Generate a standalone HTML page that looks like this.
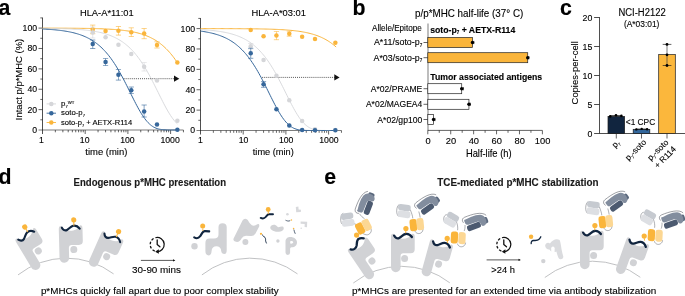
<!DOCTYPE html>
<html><head><meta charset="utf-8"><title>figure</title>
<style>html,body{margin:0;padding:0;background:#fff;overflow:hidden}svg{display:block;will-change:transform}text{font-family:"Liberation Sans",sans-serif;stroke:#000;stroke-width:0.12px;paint-order:stroke}</style>
</head><body>
<svg width="685" height="296" viewBox="0 0 685 296" font-family="Liberation Sans, sans-serif">
<rect width="685" height="296" fill="#fff"/>
<line x1="42.50" y1="17.61" x2="42.50" y2="134.00" stroke="#222" stroke-width="0.8" />
<line x1="38.50" y1="130.00" x2="183.45" y2="130.00" stroke="#111" stroke-width="0.55" />
<line x1="40.30" y1="119.81" x2="42.50" y2="119.81" stroke="#222" stroke-width="0.7" />
<line x1="38.50" y1="109.62" x2="42.50" y2="109.62" stroke="#222" stroke-width="0.7" />
<line x1="40.30" y1="99.43" x2="42.50" y2="99.43" stroke="#222" stroke-width="0.7" />
<line x1="38.50" y1="89.24" x2="42.50" y2="89.24" stroke="#222" stroke-width="0.7" />
<line x1="40.30" y1="79.05" x2="42.50" y2="79.05" stroke="#222" stroke-width="0.7" />
<line x1="38.50" y1="68.86" x2="42.50" y2="68.86" stroke="#222" stroke-width="0.7" />
<line x1="40.30" y1="58.67" x2="42.50" y2="58.67" stroke="#222" stroke-width="0.7" />
<line x1="38.50" y1="48.48" x2="42.50" y2="48.48" stroke="#222" stroke-width="0.7" />
<line x1="40.30" y1="38.29" x2="42.50" y2="38.29" stroke="#222" stroke-width="0.7" />
<line x1="38.50" y1="28.10" x2="42.50" y2="28.10" stroke="#222" stroke-width="0.7" />
<line x1="40.30" y1="17.91" x2="42.50" y2="17.91" stroke="#222" stroke-width="0.7" />
<text x="37.10" y="132.95" font-size="8.7" text-anchor="end" fill="#000" >0</text>
<text x="37.10" y="112.57" font-size="8.7" text-anchor="end" fill="#000" >20</text>
<text x="37.10" y="92.19" font-size="8.7" text-anchor="end" fill="#000" >40</text>
<text x="37.10" y="71.81" font-size="8.7" text-anchor="end" fill="#000" >60</text>
<text x="37.10" y="51.43" font-size="8.7" text-anchor="end" fill="#000" >80</text>
<text x="37.10" y="31.05" font-size="8.7" text-anchor="end" fill="#000" >100</text>
<line x1="55.35" y1="130.00" x2="55.35" y2="132.30" stroke="#222" stroke-width="0.7" />
<line x1="62.87" y1="130.00" x2="62.87" y2="132.30" stroke="#222" stroke-width="0.7" />
<line x1="68.21" y1="130.00" x2="68.21" y2="132.30" stroke="#222" stroke-width="0.7" />
<line x1="72.35" y1="130.00" x2="72.35" y2="132.30" stroke="#222" stroke-width="0.7" />
<line x1="75.73" y1="130.00" x2="75.73" y2="132.30" stroke="#222" stroke-width="0.7" />
<line x1="78.59" y1="130.00" x2="78.59" y2="132.30" stroke="#222" stroke-width="0.7" />
<line x1="81.06" y1="130.00" x2="81.06" y2="132.30" stroke="#222" stroke-width="0.7" />
<line x1="83.25" y1="130.00" x2="83.25" y2="132.30" stroke="#222" stroke-width="0.7" />
<line x1="85.20" y1="130.00" x2="85.20" y2="134.00" stroke="#222" stroke-width="0.7" />
<line x1="98.05" y1="130.00" x2="98.05" y2="132.30" stroke="#222" stroke-width="0.7" />
<line x1="105.57" y1="130.00" x2="105.57" y2="132.30" stroke="#222" stroke-width="0.7" />
<line x1="110.91" y1="130.00" x2="110.91" y2="132.30" stroke="#222" stroke-width="0.7" />
<line x1="115.05" y1="130.00" x2="115.05" y2="132.30" stroke="#222" stroke-width="0.7" />
<line x1="118.43" y1="130.00" x2="118.43" y2="132.30" stroke="#222" stroke-width="0.7" />
<line x1="121.29" y1="130.00" x2="121.29" y2="132.30" stroke="#222" stroke-width="0.7" />
<line x1="123.76" y1="130.00" x2="123.76" y2="132.30" stroke="#222" stroke-width="0.7" />
<line x1="125.95" y1="130.00" x2="125.95" y2="132.30" stroke="#222" stroke-width="0.7" />
<line x1="127.90" y1="130.00" x2="127.90" y2="134.00" stroke="#222" stroke-width="0.7" />
<line x1="140.75" y1="130.00" x2="140.75" y2="132.30" stroke="#222" stroke-width="0.7" />
<line x1="148.27" y1="130.00" x2="148.27" y2="132.30" stroke="#222" stroke-width="0.7" />
<line x1="153.61" y1="130.00" x2="153.61" y2="132.30" stroke="#222" stroke-width="0.7" />
<line x1="157.75" y1="130.00" x2="157.75" y2="132.30" stroke="#222" stroke-width="0.7" />
<line x1="161.13" y1="130.00" x2="161.13" y2="132.30" stroke="#222" stroke-width="0.7" />
<line x1="163.99" y1="130.00" x2="163.99" y2="132.30" stroke="#222" stroke-width="0.7" />
<line x1="166.46" y1="130.00" x2="166.46" y2="132.30" stroke="#222" stroke-width="0.7" />
<line x1="168.65" y1="130.00" x2="168.65" y2="132.30" stroke="#222" stroke-width="0.7" />
<line x1="170.60" y1="130.00" x2="170.60" y2="134.00" stroke="#222" stroke-width="0.7" />
<line x1="183.45" y1="130.00" x2="183.45" y2="132.30" stroke="#222" stroke-width="0.7" />
<text x="41.50" y="143.30" font-size="8.7" text-anchor="middle" fill="#000" >1</text>
<text x="84.70" y="143.30" font-size="8.7" text-anchor="middle" fill="#000" >10</text>
<text x="127.40" y="143.30" font-size="8.7" text-anchor="middle" fill="#000" >100</text>
<text x="170.10" y="143.30" font-size="8.7" text-anchor="middle" fill="#000" >1000</text>
<polyline points="42.50,28.13 43.62,28.13 44.75,28.13 45.87,28.14 47.00,28.14 48.12,28.14 49.24,28.14 50.37,28.14 51.49,28.15 52.61,28.15 53.74,28.15 54.86,28.16 55.99,28.16 57.11,28.16 58.23,28.17 59.36,28.17 60.48,28.18 61.61,28.18 62.73,28.19 63.85,28.19 64.98,28.20 66.10,28.20 67.22,28.21 68.35,28.22 69.47,28.23 70.60,28.23 71.72,28.24 72.84,28.25 73.97,28.26 75.09,28.27 76.22,28.28 77.34,28.29 78.46,28.30 79.59,28.32 80.71,28.33 81.83,28.34 82.96,28.36 84.08,28.38 85.21,28.39 86.33,28.41 87.45,28.43 88.58,28.45 89.70,28.47 90.83,28.50 91.95,28.52 93.07,28.55 94.20,28.57 95.32,28.60 96.44,28.64 97.57,28.67 98.69,28.70 99.82,28.74 100.94,28.78 102.06,28.82 103.19,28.87 104.31,28.92 105.44,28.97 106.56,29.02 107.68,29.08 108.81,29.14 109.93,29.21 111.05,29.27 112.18,29.35 113.30,29.42 114.43,29.51 115.55,29.59 116.67,29.69 117.80,29.79 118.92,29.89 120.05,30.00 121.17,30.12 122.29,30.24 123.42,30.37 124.54,30.52 125.66,30.66 126.79,30.82 127.91,30.99 129.04,31.17 130.16,31.36 131.28,31.56 132.41,31.77 133.53,31.99 134.66,32.23 135.78,32.48 136.90,32.75 138.03,33.03 139.15,33.33 140.28,33.65 141.40,33.99 142.52,34.35 143.65,34.72 144.77,35.12 145.89,35.54 147.02,35.99 148.14,36.46 149.27,36.96 150.39,37.49 151.51,38.05 152.64,38.64 153.76,39.26 154.89,39.91 156.01,40.60 157.13,41.33 158.26,42.10 159.38,42.90 160.50,43.75 161.63,44.65 162.75,45.59 163.88,46.58 165.00,47.61 166.12,48.70 167.25,49.84 168.37,51.03 169.50,52.28 170.62,53.58 171.74,54.94 172.87,56.37 173.99,57.84 175.11,59.38 176.24,60.98 177.36,62.64" fill="none" stroke="#FAB53B" stroke-width="1.0" stroke-linejoin="round"/>
<polyline points="42.50,28.30 43.62,28.31 44.75,28.32 45.87,28.34 47.00,28.35 48.12,28.37 49.24,28.39 50.37,28.40 51.49,28.42 52.61,28.44 53.74,28.46 54.86,28.49 55.99,28.51 57.11,28.54 58.23,28.56 59.36,28.59 60.48,28.62 61.61,28.66 62.73,28.69 63.85,28.73 64.98,28.77 66.10,28.81 67.22,28.85 68.35,28.90 69.47,28.95 70.60,29.00 71.72,29.06 72.84,29.12 73.97,29.18 75.09,29.25 76.22,29.32 77.34,29.39 78.46,29.47 79.59,29.56 80.71,29.65 81.83,29.75 82.96,29.85 84.08,29.96 85.21,30.07 86.33,30.19 87.45,30.32 88.58,30.46 89.70,30.60 90.83,30.76 91.95,30.92 93.07,31.10 94.20,31.28 95.32,31.48 96.44,31.68 97.57,31.90 98.69,32.14 99.82,32.38 100.94,32.64 102.06,32.92 103.19,33.22 104.31,33.53 105.44,33.86 106.56,34.20 107.68,34.57 108.81,34.96 109.93,35.38 111.05,35.81 112.18,36.28 113.30,36.76 114.43,37.28 115.55,37.83 116.67,38.40 117.80,39.01 118.92,39.65 120.05,40.33 121.17,41.04 122.29,41.79 123.42,42.59 124.54,43.42 125.66,44.30 126.79,45.22 127.91,46.19 129.04,47.20 130.16,48.27 131.28,49.39 132.41,50.56 133.53,51.79 134.66,53.07 135.78,54.41 136.90,55.80 138.03,57.26 139.15,58.78 140.28,60.35 141.40,61.99 142.52,63.69 143.65,65.44 144.77,67.26 145.89,69.13 147.02,71.06 148.14,73.04 149.27,75.07 150.39,77.15 151.51,79.28 152.64,81.44 153.76,83.64 154.89,85.86 156.01,88.11 157.13,90.37 158.26,92.64 159.38,94.91 160.50,97.18 161.63,99.42 162.75,101.63 163.88,103.81 165.00,105.94 166.12,108.02 167.25,110.03 168.37,111.96 169.50,113.81 170.62,115.57 171.74,117.23 172.87,118.78 173.99,120.23 175.11,121.56 176.24,122.77 177.36,123.88" fill="none" stroke="#D5D6D9" stroke-width="0.9" stroke-linejoin="round"/>
<polyline points="42.50,29.00 43.62,29.05 44.75,29.11 45.87,29.17 47.00,29.24 48.12,29.31 49.24,29.39 50.37,29.47 51.49,29.55 52.61,29.64 53.74,29.74 54.86,29.84 55.99,29.95 57.11,30.06 58.23,30.18 59.36,30.31 60.48,30.45 61.61,30.59 62.73,30.74 63.85,30.91 64.98,31.08 66.10,31.26 67.22,31.46 68.35,31.66 69.47,31.88 70.60,32.11 71.72,32.36 72.84,32.62 73.97,32.89 75.09,33.19 76.22,33.49 77.34,33.82 78.46,34.17 79.59,34.54 80.71,34.92 81.83,35.33 82.96,35.77 84.08,36.23 85.21,36.71 86.33,37.23 87.45,37.77 88.58,38.34 89.70,38.95 90.83,39.59 91.95,40.26 93.07,40.97 94.20,41.72 95.32,42.50 96.44,43.33 97.57,44.21 98.69,45.12 99.82,46.09 100.94,47.10 102.06,48.16 103.19,49.27 104.31,50.44 105.44,51.66 106.56,52.94 107.68,54.27 108.81,55.66 109.93,57.11 111.05,58.62 112.18,60.19 113.30,61.82 114.43,63.51 115.55,65.26 116.67,67.07 117.80,68.94 118.92,70.86 120.05,72.84 121.17,74.87 122.29,76.94 123.42,79.06 124.54,81.22 125.66,83.42 126.79,85.64 127.91,87.89 129.04,90.15 130.16,92.42 131.28,94.69 132.41,96.95 133.53,99.20 134.66,101.41 135.78,103.60 136.90,105.73 138.03,107.81 139.15,109.83 140.28,111.77 141.40,113.63 142.52,115.40 143.65,117.07 144.77,118.63 145.89,120.09 147.02,121.43 148.14,122.66 149.27,123.77 150.39,124.77 151.51,125.65 152.64,126.43 153.76,127.11 154.89,127.68 156.01,128.17 157.13,128.58 158.26,128.91 159.38,129.18 160.50,129.39 161.63,129.56 162.75,129.69 163.88,129.78 165.00,129.85 166.12,129.90 167.25,129.94 168.37,129.96 169.50,129.98 170.62,129.99 171.74,129.99 172.87,130.00 173.99,130.00 175.11,130.00 176.24,130.00 177.36,130.00" fill="none" stroke="#36679B" stroke-width="1.0" stroke-linejoin="round"/>
<line x1="123.60" y1="78.70" x2="175.30" y2="78.70" stroke="#222" stroke-width="0.8" stroke-dasharray="0.95 1.1"/>
<path d="M174.00,75.60 L179.30,78.70 L174.00,81.80 Z" fill="#111"/>
<line x1="92.72" y1="25.10" x2="92.72" y2="33.70" stroke="#FAB53B" stroke-width="0.8" opacity="0.75"/>
<line x1="90.12" y1="25.10" x2="95.32" y2="25.10" stroke="#FAB53B" stroke-width="0.8" opacity="0.75"/>
<line x1="90.12" y1="33.70" x2="95.32" y2="33.70" stroke="#FAB53B" stroke-width="0.8" opacity="0.75"/>
<line x1="118.43" y1="26.50" x2="118.43" y2="35.10" stroke="#FAB53B" stroke-width="0.8" opacity="0.75"/>
<line x1="115.83" y1="26.50" x2="121.03" y2="26.50" stroke="#FAB53B" stroke-width="0.8" opacity="0.75"/>
<line x1="115.83" y1="35.10" x2="121.03" y2="35.10" stroke="#FAB53B" stroke-width="0.8" opacity="0.75"/>
<line x1="131.28" y1="27.80" x2="131.28" y2="36.50" stroke="#FAB53B" stroke-width="0.8" opacity="0.75"/>
<line x1="128.68" y1="27.80" x2="133.88" y2="27.80" stroke="#FAB53B" stroke-width="0.8" opacity="0.75"/>
<line x1="128.68" y1="36.50" x2="133.88" y2="36.50" stroke="#FAB53B" stroke-width="0.8" opacity="0.75"/>
<line x1="144.14" y1="28.50" x2="144.14" y2="38.70" stroke="#FAB53B" stroke-width="0.8" opacity="0.75"/>
<line x1="141.54" y1="28.50" x2="146.74" y2="28.50" stroke="#FAB53B" stroke-width="0.8" opacity="0.75"/>
<line x1="141.54" y1="38.70" x2="146.74" y2="38.70" stroke="#FAB53B" stroke-width="0.8" opacity="0.75"/>
<line x1="156.99" y1="41.80" x2="156.99" y2="48.00" stroke="#FAB53B" stroke-width="0.8" opacity="0.75"/>
<line x1="154.39" y1="41.80" x2="159.59" y2="41.80" stroke="#FAB53B" stroke-width="0.8" opacity="0.75"/>
<line x1="154.39" y1="48.00" x2="159.59" y2="48.00" stroke="#FAB53B" stroke-width="0.8" opacity="0.75"/>
<circle cx="92.72" cy="29.40" r="2.25" fill="#FAB53B" />
<circle cx="105.57" cy="31.00" r="2.25" fill="#FAB53B" />
<circle cx="118.43" cy="30.80" r="2.25" fill="#FAB53B" />
<circle cx="131.28" cy="32.30" r="2.25" fill="#FAB53B" />
<circle cx="144.14" cy="33.60" r="2.25" fill="#FAB53B" />
<circle cx="156.99" cy="44.90" r="2.25" fill="#FAB53B" />
<circle cx="177.36" cy="62.50" r="2.25" fill="#FAB53B" />
<line x1="92.72" y1="27.00" x2="92.72" y2="38.00" stroke="#D5D6D9" stroke-width="0.8" opacity="0.75"/>
<line x1="90.12" y1="27.00" x2="95.32" y2="27.00" stroke="#D5D6D9" stroke-width="0.8" opacity="0.75"/>
<line x1="90.12" y1="38.00" x2="95.32" y2="38.00" stroke="#D5D6D9" stroke-width="0.8" opacity="0.75"/>
<line x1="144.14" y1="62.60" x2="144.14" y2="71.00" stroke="#D5D6D9" stroke-width="0.8" opacity="0.75"/>
<line x1="141.54" y1="62.60" x2="146.74" y2="62.60" stroke="#D5D6D9" stroke-width="0.8" opacity="0.75"/>
<line x1="141.54" y1="71.00" x2="146.74" y2="71.00" stroke="#D5D6D9" stroke-width="0.8" opacity="0.75"/>
<circle cx="92.72" cy="32.40" r="2.25" fill="#D5D6D9" />
<circle cx="105.57" cy="37.20" r="2.25" fill="#D5D6D9" />
<circle cx="118.43" cy="44.70" r="2.25" fill="#D5D6D9" />
<circle cx="131.28" cy="54.10" r="2.25" fill="#D5D6D9" />
<circle cx="144.14" cy="66.70" r="2.25" fill="#D5D6D9" />
<circle cx="156.99" cy="80.60" r="2.25" fill="#D5D6D9" />
<circle cx="177.36" cy="120.80" r="2.25" fill="#D5D6D9" />
<line x1="92.72" y1="40.00" x2="92.72" y2="48.50" stroke="#36679B" stroke-width="0.8" opacity="0.75"/>
<line x1="90.12" y1="40.00" x2="95.32" y2="40.00" stroke="#36679B" stroke-width="0.8" opacity="0.75"/>
<line x1="90.12" y1="48.50" x2="95.32" y2="48.50" stroke="#36679B" stroke-width="0.8" opacity="0.75"/>
<line x1="105.57" y1="58.40" x2="105.57" y2="65.60" stroke="#36679B" stroke-width="0.8" opacity="0.75"/>
<line x1="102.97" y1="58.40" x2="108.17" y2="58.40" stroke="#36679B" stroke-width="0.8" opacity="0.75"/>
<line x1="102.97" y1="65.60" x2="108.17" y2="65.60" stroke="#36679B" stroke-width="0.8" opacity="0.75"/>
<line x1="118.43" y1="69.60" x2="118.43" y2="80.10" stroke="#36679B" stroke-width="0.8" opacity="0.75"/>
<line x1="115.83" y1="69.60" x2="121.03" y2="69.60" stroke="#36679B" stroke-width="0.8" opacity="0.75"/>
<line x1="115.83" y1="80.10" x2="121.03" y2="80.10" stroke="#36679B" stroke-width="0.8" opacity="0.75"/>
<line x1="131.28" y1="87.00" x2="131.28" y2="93.40" stroke="#36679B" stroke-width="0.8" opacity="0.75"/>
<line x1="128.68" y1="87.00" x2="133.88" y2="87.00" stroke="#36679B" stroke-width="0.8" opacity="0.75"/>
<line x1="128.68" y1="93.40" x2="133.88" y2="93.40" stroke="#36679B" stroke-width="0.8" opacity="0.75"/>
<line x1="144.14" y1="105.00" x2="144.14" y2="117.00" stroke="#36679B" stroke-width="0.8" opacity="0.75"/>
<line x1="141.54" y1="105.00" x2="146.74" y2="105.00" stroke="#36679B" stroke-width="0.8" opacity="0.75"/>
<line x1="141.54" y1="117.00" x2="146.74" y2="117.00" stroke="#36679B" stroke-width="0.8" opacity="0.75"/>
<circle cx="92.72" cy="44.00" r="2.25" fill="#36679B" />
<circle cx="105.57" cy="61.90" r="2.25" fill="#36679B" />
<circle cx="118.43" cy="74.70" r="2.25" fill="#36679B" />
<circle cx="131.28" cy="90.20" r="2.25" fill="#36679B" />
<circle cx="144.14" cy="111.50" r="2.25" fill="#36679B" />
<circle cx="156.99" cy="124.50" r="2.25" fill="#36679B" />
<circle cx="177.36" cy="129.80" r="2.25" fill="#36679B" />
<text x="79.90" y="16.40" font-size="9.5" text-anchor="start" fill="#000" textLength="53.8" lengthAdjust="spacingAndGlyphs" >HLA-A*11:01</text>
<text x="85.30" y="154.50" font-size="9.8" text-anchor="start" fill="#000" textLength="42.0" lengthAdjust="spacingAndGlyphs" >time (min)</text>
<text x="21.60" y="120.20" font-size="9.8" text-anchor="start" fill="#000" textLength="81.4" lengthAdjust="spacingAndGlyphs" transform="rotate(-90 21.60 120.20)" >Intact p/p*MHC (%)</text>
<line x1="46.60" y1="103.90" x2="56.00" y2="103.90" stroke="#D5D6D9" stroke-width="0.9" />
<circle cx="51.30" cy="103.90" r="2.25" fill="#D5D6D9" />
<text x="61.00" y="106.10" font-size="7.9" text-anchor="start" fill="#000" textLength="13.3" lengthAdjust="spacingAndGlyphs" >p<tspan font-size="52%" dy="1.9">7</tspan><tspan dy="-1.9">&#8203;</tspan><tspan font-size="54%" dy="-2.0">WT</tspan></text>
<line x1="46.60" y1="113.20" x2="56.00" y2="113.20" stroke="#36679B" stroke-width="0.9" />
<circle cx="51.30" cy="113.20" r="2.25" fill="#36679B" />
<text x="61.00" y="115.40" font-size="7.9" text-anchor="start" fill="#000" textLength="23.9" lengthAdjust="spacingAndGlyphs" >soto-p<tspan font-size="52%" dy="1.9">7</tspan><tspan dy="-1.9">&#8203;</tspan></text>
<line x1="46.60" y1="122.50" x2="56.00" y2="122.50" stroke="#FAB53B" stroke-width="0.9" />
<circle cx="51.30" cy="122.50" r="2.25" fill="#FAB53B" />
<text x="61.00" y="124.70" font-size="7.9" text-anchor="start" fill="#000" textLength="71.2" lengthAdjust="spacingAndGlyphs" >soto-p<tspan font-size="52%" dy="1.9">7</tspan><tspan dy="-1.9">&#8203;</tspan> + AETX-R114</text>
<line x1="200.50" y1="18.11" x2="200.50" y2="134.50" stroke="#222" stroke-width="0.8" />
<line x1="196.50" y1="130.50" x2="341.45" y2="130.50" stroke="#111" stroke-width="0.55" />
<line x1="198.30" y1="120.31" x2="200.50" y2="120.31" stroke="#222" stroke-width="0.7" />
<line x1="196.50" y1="110.12" x2="200.50" y2="110.12" stroke="#222" stroke-width="0.7" />
<line x1="198.30" y1="99.93" x2="200.50" y2="99.93" stroke="#222" stroke-width="0.7" />
<line x1="196.50" y1="89.74" x2="200.50" y2="89.74" stroke="#222" stroke-width="0.7" />
<line x1="198.30" y1="79.55" x2="200.50" y2="79.55" stroke="#222" stroke-width="0.7" />
<line x1="196.50" y1="69.36" x2="200.50" y2="69.36" stroke="#222" stroke-width="0.7" />
<line x1="198.30" y1="59.17" x2="200.50" y2="59.17" stroke="#222" stroke-width="0.7" />
<line x1="196.50" y1="48.98" x2="200.50" y2="48.98" stroke="#222" stroke-width="0.7" />
<line x1="198.30" y1="38.79" x2="200.50" y2="38.79" stroke="#222" stroke-width="0.7" />
<line x1="196.50" y1="28.60" x2="200.50" y2="28.60" stroke="#222" stroke-width="0.7" />
<line x1="198.30" y1="18.41" x2="200.50" y2="18.41" stroke="#222" stroke-width="0.7" />
<text x="195.10" y="133.45" font-size="8.7" text-anchor="end" fill="#000" >0</text>
<text x="195.10" y="113.07" font-size="8.7" text-anchor="end" fill="#000" >20</text>
<text x="195.10" y="92.69" font-size="8.7" text-anchor="end" fill="#000" >40</text>
<text x="195.10" y="72.31" font-size="8.7" text-anchor="end" fill="#000" >60</text>
<text x="195.10" y="51.93" font-size="8.7" text-anchor="end" fill="#000" >80</text>
<text x="195.10" y="31.55" font-size="8.7" text-anchor="end" fill="#000" >100</text>
<line x1="213.35" y1="130.50" x2="213.35" y2="132.80" stroke="#222" stroke-width="0.7" />
<line x1="220.87" y1="130.50" x2="220.87" y2="132.80" stroke="#222" stroke-width="0.7" />
<line x1="226.21" y1="130.50" x2="226.21" y2="132.80" stroke="#222" stroke-width="0.7" />
<line x1="230.35" y1="130.50" x2="230.35" y2="132.80" stroke="#222" stroke-width="0.7" />
<line x1="233.73" y1="130.50" x2="233.73" y2="132.80" stroke="#222" stroke-width="0.7" />
<line x1="236.59" y1="130.50" x2="236.59" y2="132.80" stroke="#222" stroke-width="0.7" />
<line x1="239.06" y1="130.50" x2="239.06" y2="132.80" stroke="#222" stroke-width="0.7" />
<line x1="241.25" y1="130.50" x2="241.25" y2="132.80" stroke="#222" stroke-width="0.7" />
<line x1="243.20" y1="130.50" x2="243.20" y2="134.50" stroke="#222" stroke-width="0.7" />
<line x1="256.05" y1="130.50" x2="256.05" y2="132.80" stroke="#222" stroke-width="0.7" />
<line x1="263.57" y1="130.50" x2="263.57" y2="132.80" stroke="#222" stroke-width="0.7" />
<line x1="268.91" y1="130.50" x2="268.91" y2="132.80" stroke="#222" stroke-width="0.7" />
<line x1="273.05" y1="130.50" x2="273.05" y2="132.80" stroke="#222" stroke-width="0.7" />
<line x1="276.43" y1="130.50" x2="276.43" y2="132.80" stroke="#222" stroke-width="0.7" />
<line x1="279.29" y1="130.50" x2="279.29" y2="132.80" stroke="#222" stroke-width="0.7" />
<line x1="281.76" y1="130.50" x2="281.76" y2="132.80" stroke="#222" stroke-width="0.7" />
<line x1="283.95" y1="130.50" x2="283.95" y2="132.80" stroke="#222" stroke-width="0.7" />
<line x1="285.90" y1="130.50" x2="285.90" y2="134.50" stroke="#222" stroke-width="0.7" />
<line x1="298.75" y1="130.50" x2="298.75" y2="132.80" stroke="#222" stroke-width="0.7" />
<line x1="306.27" y1="130.50" x2="306.27" y2="132.80" stroke="#222" stroke-width="0.7" />
<line x1="311.61" y1="130.50" x2="311.61" y2="132.80" stroke="#222" stroke-width="0.7" />
<line x1="315.75" y1="130.50" x2="315.75" y2="132.80" stroke="#222" stroke-width="0.7" />
<line x1="319.13" y1="130.50" x2="319.13" y2="132.80" stroke="#222" stroke-width="0.7" />
<line x1="321.99" y1="130.50" x2="321.99" y2="132.80" stroke="#222" stroke-width="0.7" />
<line x1="324.46" y1="130.50" x2="324.46" y2="132.80" stroke="#222" stroke-width="0.7" />
<line x1="326.65" y1="130.50" x2="326.65" y2="132.80" stroke="#222" stroke-width="0.7" />
<line x1="328.60" y1="130.50" x2="328.60" y2="134.50" stroke="#222" stroke-width="0.7" />
<line x1="341.45" y1="130.50" x2="341.45" y2="132.80" stroke="#222" stroke-width="0.7" />
<text x="200.30" y="143.30" font-size="8.7" text-anchor="middle" fill="#000" >1</text>
<text x="243.50" y="143.30" font-size="8.7" text-anchor="middle" fill="#000" >10</text>
<text x="286.20" y="143.30" font-size="8.7" text-anchor="middle" fill="#000" >100</text>
<text x="328.90" y="143.30" font-size="8.7" text-anchor="middle" fill="#000" >1000</text>
<polyline points="200.50,28.61 201.63,28.61 202.76,28.62 203.89,28.62 205.02,28.62 206.15,28.62 207.28,28.62 208.41,28.62 209.54,28.62 210.67,28.62 211.80,28.62 212.93,28.63 214.06,28.63 215.19,28.63 216.32,28.63 217.45,28.63 218.58,28.64 219.71,28.64 220.84,28.64 221.97,28.64 223.10,28.65 224.23,28.65 225.36,28.65 226.49,28.65 227.62,28.66 228.75,28.66 229.88,28.67 231.01,28.67 232.14,28.67 233.27,28.68 234.40,28.68 235.53,28.69 236.67,28.70 237.80,28.70 238.93,28.71 240.06,28.71 241.19,28.72 242.32,28.73 243.45,28.74 244.58,28.75 245.71,28.75 246.84,28.76 247.97,28.77 249.10,28.79 250.23,28.80 251.36,28.81 252.49,28.82 253.62,28.84 254.75,28.85 255.88,28.87 257.01,28.88 258.14,28.90 259.27,28.92 260.40,28.94 261.53,28.96 262.66,28.99 263.79,29.01 264.92,29.04 266.05,29.06 267.18,29.09 268.31,29.12 269.44,29.16 270.57,29.19 271.70,29.23 272.83,29.27 273.96,29.31 275.09,29.35 276.22,29.40 277.35,29.45 278.48,29.50 279.61,29.56 280.74,29.62 281.87,29.68 283.00,29.75 284.13,29.82 285.26,29.90 286.39,29.98 287.52,30.07 288.65,30.16 289.78,30.25 290.91,30.36 292.04,30.47 293.17,30.58 294.30,30.71 295.43,30.84 296.56,30.98 297.69,31.12 298.82,31.28 299.95,31.45 301.08,31.62 302.21,31.81 303.34,32.01 304.47,32.22 305.60,32.44 306.73,32.68 307.87,32.93 309.00,33.19 310.13,33.48 311.26,33.77 312.39,34.09 313.52,34.43 314.65,34.78 315.78,35.16 316.91,35.55 318.04,35.97 319.17,36.42 320.30,36.89 321.43,37.39 322.56,37.91 323.69,38.47 324.82,39.06 325.95,39.68 327.08,40.33 328.21,41.02 329.34,41.75 330.47,42.52 331.60,43.33 332.73,44.18 333.86,45.07 334.99,46.01 336.12,47.00" fill="none" stroke="#FAB53B" stroke-width="1.0" stroke-linejoin="round"/>
<polyline points="200.50,29.62 201.62,29.68 202.75,29.75 203.87,29.82 205.00,29.90 206.12,29.98 207.24,30.06 208.37,30.15 209.49,30.25 210.61,30.35 211.74,30.46 212.86,30.57 213.99,30.70 215.11,30.83 216.23,30.96 217.36,31.11 218.48,31.26 219.61,31.43 220.73,31.60 221.85,31.79 222.98,31.98 224.10,32.19 225.22,32.41 226.35,32.64 227.47,32.89 228.60,33.15 229.72,33.43 230.84,33.72 231.97,34.04 233.09,34.37 234.22,34.71 235.34,35.08 236.46,35.48 237.59,35.89 238.71,36.33 239.83,36.79 240.96,37.28 242.08,37.80 243.21,38.34 244.33,38.92 245.45,39.53 246.58,40.17 247.70,40.85 248.83,41.56 249.95,42.32 251.07,43.11 252.20,43.94 253.32,44.82 254.44,45.74 255.57,46.71 256.69,47.73 257.82,48.80 258.94,49.92 260.06,51.09 261.19,52.32 262.31,53.61 263.44,54.95 264.56,56.34 265.68,57.80 266.81,59.32 267.93,60.90 269.05,62.54 270.18,64.23 271.30,65.99 272.43,67.81 273.55,69.68 274.67,71.61 275.80,73.60 276.92,75.63 278.05,77.71 279.17,79.84 280.29,82.00 281.42,84.20 282.54,86.43 283.66,88.68 284.79,90.94 285.91,93.21 287.04,95.48 288.16,97.74 289.28,99.98 290.41,102.20 291.53,104.37 292.66,106.50 293.78,108.58 294.90,110.58 296.03,112.51 297.15,114.36 298.28,116.12 299.40,117.77 300.52,119.32 301.65,120.77 302.77,122.09 303.89,123.31 305.02,124.40 306.14,125.39 307.27,126.26 308.39,127.02 309.51,127.69 310.64,128.25 311.76,128.73 312.89,129.12 314.01,129.45 315.13,129.71 316.26,129.92 317.38,130.08 318.50,130.20 319.63,130.29 320.75,130.36 321.88,130.41 323.00,130.44 324.12,130.46 325.25,130.48 326.37,130.49 327.50,130.49 328.62,130.50 329.74,130.50 330.87,130.50 331.99,130.50 333.11,130.50 334.24,130.50 335.36,130.50" fill="none" stroke="#D5D6D9" stroke-width="0.9" stroke-linejoin="round"/>
<polyline points="200.50,31.10 201.62,31.25 202.75,31.42 203.87,31.59 205.00,31.78 206.12,31.97 207.24,32.18 208.37,32.40 209.49,32.63 210.61,32.88 211.74,33.14 212.86,33.41 213.99,33.71 215.11,34.02 216.23,34.35 217.36,34.69 218.48,35.06 219.61,35.45 220.73,35.86 221.85,36.30 222.98,36.76 224.10,37.25 225.22,37.76 226.35,38.31 227.47,38.88 228.60,39.49 229.72,40.13 230.84,40.81 231.97,41.52 233.09,42.27 234.22,43.06 235.34,43.89 236.46,44.77 237.59,45.69 238.71,46.66 239.83,47.67 240.96,48.74 242.08,49.85 243.21,51.02 244.33,52.25 245.45,53.53 246.58,54.87 247.70,56.26 248.83,57.72 249.95,59.23 251.07,60.80 252.20,62.44 253.32,64.13 254.44,65.89 255.57,67.70 256.69,69.57 257.82,71.50 258.94,73.48 260.06,75.51 261.19,77.59 262.31,79.71 263.44,81.87 264.56,84.07 265.68,86.29 266.81,88.54 267.93,90.80 269.05,93.08 270.18,95.35 271.30,97.61 272.43,99.85 273.55,102.07 274.67,104.25 275.80,106.38 276.92,108.46 278.05,110.47 279.17,112.40 280.29,114.25 281.42,116.02 282.54,117.68 283.66,119.24 284.79,120.68 285.91,122.02 287.04,123.24 288.16,124.34 289.28,125.33 290.41,126.21 291.53,126.98 292.66,127.65 293.78,128.22 294.90,128.70 296.03,129.10 297.15,129.43 298.28,129.70 299.40,129.91 300.52,130.07 301.65,130.19 302.77,130.29 303.89,130.36 305.02,130.40 306.14,130.44 307.27,130.46 308.39,130.48 309.51,130.49 310.64,130.49 311.76,130.50 312.89,130.50 314.01,130.50 315.13,130.50 316.26,130.50 317.38,130.50 318.50,130.50 319.63,130.50 320.75,130.50 321.88,130.50 323.00,130.50 324.12,130.50 325.25,130.50 326.37,130.50 327.50,130.50 328.62,130.50 329.74,130.50 330.87,130.50 331.99,130.50 333.11,130.50 334.24,130.50 335.36,130.50" fill="none" stroke="#36679B" stroke-width="1.0" stroke-linejoin="round"/>
<line x1="262.20" y1="77.40" x2="335.60" y2="77.40" stroke="#222" stroke-width="0.8" stroke-dasharray="0.95 1.1"/>
<path d="M334.30,74.30 L339.60,77.40 L334.30,80.50 Z" fill="#111"/>
<line x1="276.43" y1="31.60" x2="276.43" y2="39.70" stroke="#FAB53B" stroke-width="0.8" opacity="0.75"/>
<line x1="273.83" y1="31.60" x2="279.03" y2="31.60" stroke="#FAB53B" stroke-width="0.8" opacity="0.75"/>
<line x1="273.83" y1="39.70" x2="279.03" y2="39.70" stroke="#FAB53B" stroke-width="0.8" opacity="0.75"/>
<line x1="289.28" y1="31.20" x2="289.28" y2="36.20" stroke="#FAB53B" stroke-width="0.8" opacity="0.75"/>
<line x1="286.68" y1="31.20" x2="291.88" y2="31.20" stroke="#FAB53B" stroke-width="0.8" opacity="0.75"/>
<line x1="286.68" y1="36.20" x2="291.88" y2="36.20" stroke="#FAB53B" stroke-width="0.8" opacity="0.75"/>
<circle cx="250.72" cy="29.90" r="2.25" fill="#FAB53B" />
<circle cx="263.57" cy="36.30" r="2.25" fill="#FAB53B" />
<circle cx="276.43" cy="35.50" r="2.25" fill="#FAB53B" />
<circle cx="289.28" cy="33.70" r="2.25" fill="#FAB53B" />
<circle cx="302.14" cy="36.70" r="2.25" fill="#FAB53B" />
<circle cx="314.99" cy="38.90" r="2.25" fill="#FAB53B" />
<circle cx="335.36" cy="42.70" r="2.25" fill="#FAB53B" />
<line x1="250.72" y1="43.50" x2="250.72" y2="49.00" stroke="#D5D6D9" stroke-width="0.8" opacity="0.75"/>
<line x1="248.12" y1="43.50" x2="253.32" y2="43.50" stroke="#D5D6D9" stroke-width="0.8" opacity="0.75"/>
<line x1="248.12" y1="49.00" x2="253.32" y2="49.00" stroke="#D5D6D9" stroke-width="0.8" opacity="0.75"/>
<circle cx="250.72" cy="46.20" r="2.25" fill="#D5D6D9" />
<circle cx="263.57" cy="60.10" r="2.25" fill="#D5D6D9" />
<circle cx="276.43" cy="75.80" r="2.25" fill="#D5D6D9" />
<circle cx="289.28" cy="100.20" r="2.25" fill="#D5D6D9" />
<circle cx="302.14" cy="120.90" r="2.25" fill="#D5D6D9" />
<circle cx="314.99" cy="129.30" r="2.25" fill="#D5D6D9" />
<circle cx="335.36" cy="130.10" r="2.25" fill="#D5D6D9" />
<line x1="250.72" y1="48.30" x2="250.72" y2="58.30" stroke="#36679B" stroke-width="0.8" opacity="0.75"/>
<line x1="248.12" y1="48.30" x2="253.32" y2="48.30" stroke="#36679B" stroke-width="0.8" opacity="0.75"/>
<line x1="248.12" y1="58.30" x2="253.32" y2="58.30" stroke="#36679B" stroke-width="0.8" opacity="0.75"/>
<line x1="263.57" y1="81.40" x2="263.57" y2="87.30" stroke="#36679B" stroke-width="0.8" opacity="0.75"/>
<line x1="260.97" y1="81.40" x2="266.17" y2="81.40" stroke="#36679B" stroke-width="0.8" opacity="0.75"/>
<line x1="260.97" y1="87.30" x2="266.17" y2="87.30" stroke="#36679B" stroke-width="0.8" opacity="0.75"/>
<circle cx="250.72" cy="53.30" r="2.25" fill="#36679B" />
<circle cx="263.57" cy="84.30" r="2.25" fill="#36679B" />
<circle cx="276.43" cy="109.30" r="2.25" fill="#36679B" />
<circle cx="289.28" cy="125.50" r="2.25" fill="#36679B" />
<circle cx="302.14" cy="130.00" r="2.25" fill="#36679B" />
<circle cx="314.99" cy="130.20" r="2.25" fill="#36679B" />
<circle cx="335.36" cy="130.20" r="2.25" fill="#36679B" />
<text x="251.40" y="16.40" font-size="9.5" text-anchor="start" fill="#000" textLength="54.5" lengthAdjust="spacingAndGlyphs" >HLA-A*03:01</text>
<text x="252.80" y="154.50" font-size="9.8" text-anchor="start" fill="#000" textLength="41.0" lengthAdjust="spacingAndGlyphs" >time (min)</text>
<text x="-1.50" y="14.50" font-size="21.3" text-anchor="start" fill="#000" font-weight="bold" >a</text>
<text x="352.50" y="14.50" font-size="21.3" text-anchor="start" fill="#000" font-weight="bold" >b</text>
<text x="560.10" y="14.50" font-size="21.3" text-anchor="start" fill="#000" font-weight="bold" >c</text>
<text x="-1.50" y="183.70" font-size="21.3" text-anchor="start" fill="#000" font-weight="bold" >d</text>
<text x="324.20" y="183.60" font-size="21.3" text-anchor="start" fill="#000" font-weight="bold" >e</text>
<text x="415.00" y="16.70" font-size="10.2" text-anchor="start" fill="#000" textLength="108.3" lengthAdjust="spacingAndGlyphs" >p/p*MHC half-life (37° C)</text>
<text x="372.10" y="31.30" font-size="8.7" text-anchor="start" fill="#000" textLength="49.6" lengthAdjust="spacingAndGlyphs" >Allele/Epitope</text>
<text x="430.20" y="32.50" font-size="8.5" text-anchor="start" fill="#000" font-weight="bold" textLength="85.1" lengthAdjust="spacingAndGlyphs" >soto-p<tspan font-size="52%" dy="1.9">7</tspan><tspan dy="-1.9">&#8203;</tspan> + AETX-R114</text>
<text x="430.30" y="79.50" font-size="8.5" text-anchor="start" fill="#000" font-weight="bold" textLength="111.9" lengthAdjust="spacingAndGlyphs" >Tumor associated antigens</text>
<line x1="428.00" y1="23.40" x2="428.00" y2="130.40" stroke="#888" stroke-width="1.1" />
<line x1="427.80" y1="130.40" x2="542.40" y2="130.40" stroke="#222" stroke-width="0.7" />
<line x1="427.80" y1="130.40" x2="427.80" y2="134.30" stroke="#222" stroke-width="0.7" />
<text x="428.00" y="143.80" font-size="9.3" text-anchor="middle" fill="#000" >0</text>
<line x1="439.26" y1="130.40" x2="439.26" y2="132.80" stroke="#222" stroke-width="0.7" />
<line x1="450.72" y1="130.40" x2="450.72" y2="134.30" stroke="#222" stroke-width="0.7" />
<text x="450.92" y="143.80" font-size="9.3" text-anchor="middle" fill="#000" >20</text>
<line x1="462.18" y1="130.40" x2="462.18" y2="132.80" stroke="#222" stroke-width="0.7" />
<line x1="473.64" y1="130.40" x2="473.64" y2="134.30" stroke="#222" stroke-width="0.7" />
<text x="473.84" y="143.80" font-size="9.3" text-anchor="middle" fill="#000" >40</text>
<line x1="485.10" y1="130.40" x2="485.10" y2="132.80" stroke="#222" stroke-width="0.7" />
<line x1="496.56" y1="130.40" x2="496.56" y2="134.30" stroke="#222" stroke-width="0.7" />
<text x="496.76" y="143.80" font-size="9.3" text-anchor="middle" fill="#000" >60</text>
<line x1="508.02" y1="130.40" x2="508.02" y2="132.80" stroke="#222" stroke-width="0.7" />
<line x1="519.48" y1="130.40" x2="519.48" y2="134.30" stroke="#222" stroke-width="0.7" />
<text x="519.68" y="143.80" font-size="9.3" text-anchor="middle" fill="#000" >80</text>
<line x1="530.94" y1="130.40" x2="530.94" y2="132.80" stroke="#222" stroke-width="0.7" />
<line x1="542.40" y1="130.40" x2="542.40" y2="134.30" stroke="#222" stroke-width="0.7" />
<text x="542.60" y="143.80" font-size="9.3" text-anchor="middle" fill="#000" >100</text>
<text x="465.90" y="156.90" font-size="10.2" text-anchor="start" fill="#000" textLength="45.7" lengthAdjust="spacingAndGlyphs" >Half-life (h)</text>
<rect x="427.80" y="37.50" width="44.69" height="10" fill="#FAB53B" stroke="#222" stroke-width="0.7"/>
<line x1="423.50" y1="42.50" x2="427.80" y2="42.50" stroke="#222" stroke-width="0.7" />
<line x1="471.12" y1="42.50" x2="473.87" y2="42.50" stroke="#111" stroke-width="0.7" />
<line x1="473.87" y1="40.90" x2="473.87" y2="44.10" stroke="#111" stroke-width="0.7" />
<circle cx="472.49" cy="42.50" r="1.7" fill="#000" />
<text x="422.30" y="45.30" font-size="9.0" text-anchor="end" fill="#000" textLength="48.4" lengthAdjust="spacingAndGlyphs" >A*11/soto-p<tspan font-size="52%" dy="1.9">7</tspan><tspan dy="-1.9">&#8203;</tspan></text>
<rect x="427.80" y="52.70" width="99.93" height="10" fill="#FAB53B" stroke="#222" stroke-width="0.7"/>
<line x1="423.50" y1="57.70" x2="427.80" y2="57.70" stroke="#222" stroke-width="0.7" />
<line x1="526.59" y1="57.70" x2="528.88" y2="57.70" stroke="#111" stroke-width="0.7" />
<line x1="528.88" y1="56.10" x2="528.88" y2="59.30" stroke="#111" stroke-width="0.7" />
<circle cx="527.73" cy="57.70" r="1.7" fill="#000" />
<text x="422.30" y="60.50" font-size="9.0" text-anchor="end" fill="#000" textLength="48.8" lengthAdjust="spacingAndGlyphs" >A*03/soto-p<tspan font-size="52%" dy="1.9">7</tspan><tspan dy="-1.9">&#8203;</tspan></text>
<rect x="427.80" y="83.70" width="33.92" height="10" fill="#fff" stroke="#222" stroke-width="0.7"/>
<line x1="423.50" y1="88.70" x2="427.80" y2="88.70" stroke="#222" stroke-width="0.7" />
<line x1="460.00" y1="88.70" x2="463.44" y2="88.70" stroke="#111" stroke-width="0.7" />
<line x1="463.44" y1="87.10" x2="463.44" y2="90.30" stroke="#111" stroke-width="0.7" />
<circle cx="461.72" cy="88.70" r="1.7" fill="#000" />
<text x="422.30" y="91.90" font-size="9.0" text-anchor="end" fill="#000" textLength="51.6" lengthAdjust="spacingAndGlyphs" >A*02/PRAME</text>
<rect x="427.80" y="99.30" width="41.14" height="10" fill="#fff" stroke="#222" stroke-width="0.7"/>
<line x1="423.50" y1="104.30" x2="427.80" y2="104.30" stroke="#222" stroke-width="0.7" />
<line x1="467.57" y1="104.30" x2="470.32" y2="104.30" stroke="#111" stroke-width="0.7" />
<line x1="470.32" y1="102.70" x2="470.32" y2="105.90" stroke="#111" stroke-width="0.7" />
<circle cx="468.94" cy="104.30" r="1.7" fill="#000" />
<text x="422.30" y="106.90" font-size="9.0" text-anchor="end" fill="#000" textLength="56.4" lengthAdjust="spacingAndGlyphs" >A*02/MAGEA4</text>
<rect x="427.80" y="114.50" width="5.73" height="10" fill="#fff" stroke="#222" stroke-width="0.7"/>
<line x1="423.50" y1="119.50" x2="427.80" y2="119.50" stroke="#222" stroke-width="0.7" />
<line x1="432.04" y1="119.50" x2="435.02" y2="119.50" stroke="#111" stroke-width="0.7" />
<line x1="435.02" y1="117.90" x2="435.02" y2="121.10" stroke="#111" stroke-width="0.7" />
<circle cx="433.53" cy="119.50" r="1.7" fill="#000" />
<text x="422.30" y="123.10" font-size="9.0" text-anchor="end" fill="#000" textLength="45.0" lengthAdjust="spacingAndGlyphs" >A*02/gp100</text>
<text x="618.40" y="15.90" font-size="10.0" text-anchor="start" fill="#000" textLength="47.3" lengthAdjust="spacingAndGlyphs" >NCI-H2122</text>
<text x="623.90" y="27.00" font-size="8.8" text-anchor="start" fill="#000" textLength="35.5" lengthAdjust="spacingAndGlyphs" >(A*03:01)</text>
<text x="578.30" y="104.40" font-size="9.9" text-anchor="start" fill="#000" textLength="63.2" lengthAdjust="spacingAndGlyphs" transform="rotate(-90 578.30 104.40)" >Copies-per-cell</text>
<line x1="599.50" y1="17.10" x2="599.50" y2="133.50" stroke="#222" stroke-width="0.8" />
<line x1="594.10" y1="133.50" x2="685.00" y2="133.50" stroke="#222" stroke-width="0.8" />
<line x1="594.10" y1="104.50" x2="599.50" y2="104.50" stroke="#222" stroke-width="0.8" />
<line x1="594.10" y1="75.50" x2="599.50" y2="75.50" stroke="#222" stroke-width="0.8" />
<line x1="594.10" y1="46.50" x2="599.50" y2="46.50" stroke="#222" stroke-width="0.8" />
<line x1="594.10" y1="17.50" x2="599.50" y2="17.50" stroke="#222" stroke-width="0.8" />
<text x="592.30" y="136.55" font-size="8.8" text-anchor="end" fill="#000" >0</text>
<text x="592.30" y="107.55" font-size="8.8" text-anchor="end" fill="#000" >5</text>
<text x="592.30" y="78.55" font-size="8.8" text-anchor="end" fill="#000" >10</text>
<text x="592.30" y="49.55" font-size="8.8" text-anchor="end" fill="#000" >15</text>
<text x="592.30" y="20.55" font-size="8.8" text-anchor="end" fill="#000" >20</text>
<rect x="608.00" y="116.39" width="16.6" height="17.11" fill="#11253F" stroke="#1a1a1a" stroke-width="0.7"/>
<line x1="616.30" y1="133.50" x2="616.30" y2="138.50" stroke="#222" stroke-width="0.7" />
<rect x="633.20" y="129.32" width="16.6" height="4.18" fill="#33679C" stroke="#1a1a1a" stroke-width="0.7"/>
<line x1="641.50" y1="133.50" x2="641.50" y2="138.50" stroke="#222" stroke-width="0.7" />
<rect x="658.70" y="54.62" width="16.6" height="78.88" fill="#FBB73C" stroke="#1a1a1a" stroke-width="0.7"/>
<line x1="667.00" y1="133.50" x2="667.00" y2="138.50" stroke="#222" stroke-width="0.7" />
<line x1="667.00" y1="44.40" x2="667.00" y2="65.50" stroke="#444" stroke-width="0.7" />
<line x1="662.70" y1="44.40" x2="671.40" y2="44.40" stroke="#222" stroke-width="0.7" />
<line x1="662.70" y1="65.50" x2="671.40" y2="65.50" stroke="#222" stroke-width="0.7" />
<circle cx="667.00" cy="44.40" r="1.4" fill="#000" />
<circle cx="667.00" cy="54.80" r="1.4" fill="#000" />
<circle cx="667.00" cy="65.50" r="1.4" fill="#000" />
<line x1="610.00" y1="115.60" x2="622.00" y2="115.60" stroke="#000" stroke-width="0.7" />
<circle cx="610.20" cy="116.40" r="1.3" fill="#000" />
<circle cx="616.00" cy="115.20" r="1.3" fill="#000" />
<circle cx="621.40" cy="115.90" r="1.3" fill="#000" />
<line x1="636.00" y1="129.10" x2="647.40" y2="129.10" stroke="#000" stroke-width="0.7" />
<circle cx="636.30" cy="129.40" r="1.2" fill="#000" />
<circle cx="641.70" cy="128.90" r="1.2" fill="#000" />
<circle cx="647.10" cy="129.20" r="1.2" fill="#000" />
<text x="625.80" y="125.10" font-size="8.2" text-anchor="start" fill="#000" textLength="29.4" lengthAdjust="spacingAndGlyphs" >&lt;1 CPC</text>
<text x="620.20" y="143.20" font-size="8.4" text-anchor="end" transform="rotate(-45 620.20 143.20)">p<tspan font-size="52%" dy="1.8">7</tspan><tspan dy="-1.8">&#8203;</tspan></text>
<text x="646.80" y="142.80" font-size="8.4" text-anchor="end" transform="rotate(-45 646.80 142.80)">p<tspan font-size="52%" dy="1.8">7</tspan><tspan dy="-1.8">&#8203;</tspan>-soto</text>
<text x="669.00" y="142.90" font-size="8.4" text-anchor="end" transform="rotate(-45 669.00 142.90)">p<tspan font-size="52%" dy="1.8">7</tspan><tspan dy="-1.8">&#8203;</tspan>-soto</text>
<text x="676.60" y="149.80" font-size="8.4" text-anchor="end" transform="rotate(-45 676.60 149.80)">+ R114</text>
<path d="M18.00,274.90 A78.5,78.5 0 0 1 113.60,273.90" fill="none" stroke="#B9BABC" stroke-width="0.9"/>
<path d="M201.90,274.90 A78.5,78.5 0 0 1 297.50,273.90" fill="none" stroke="#B9BABC" stroke-width="0.9"/>
<g transform="translate(14.60 239.60) rotate(-31)">
<path d="M0,3 Q0,-0.4 2.4,0.1 C6,6.8 17.70,6.8 21.30,0.1 Q23.70,-0.4 23.70,3 L23.70,13.30 Q23.70,17.30 19.70,17.30 L12.10,17.30 Q9.60,17.30 9.60,19.80 L9.60,32.70 A4.80,4.80 0 0 1 0,32.70 Z" fill="#D1D2D5"/>
<circle cx="14.50" cy="21.90" r="3.5" fill="#D1D2D5" />
<path d="M3.1,1.9 C4.2,4.2 6.2,5.3 8.2,4.3 C10.6,3.1 12,0.8 14.5,0.3 C17,-0.2 19.2,1 20.9,3.3" fill="none" stroke="#11253F" stroke-width="2.1" stroke-linecap="round"/>
<line x1="15.20" y1="0.20" x2="15.20" y2="-3.50" stroke="#FAB53B" stroke-width="1.0" />
<circle cx="15.20" cy="-5.60" r="2.6" fill="#FAB53B" />
</g>
<g transform="translate(58.70 225.90) rotate(-1.5)">
<path d="M0,3 Q0,-0.4 2.4,0.1 C6,6.8 17.70,6.8 21.30,0.1 Q23.70,-0.4 23.70,3 L23.70,15.50 Q23.70,19.50 19.70,19.50 L12.10,19.50 Q9.60,19.50 9.60,22.00 L9.60,32.20 A4.80,4.80 0 0 1 0,32.20 Z" fill="#D1D2D5"/>
<circle cx="14.50" cy="24.10" r="3.5" fill="#D1D2D5" />
<path d="M3.1,1.9 C4.2,4.2 6.2,5.3 8.2,4.3 C10.6,3.1 12,0.8 14.5,0.3 C17,-0.2 19.2,1 20.9,3.3" fill="none" stroke="#11253F" stroke-width="2.1" stroke-linecap="round"/>
<line x1="15.20" y1="0.20" x2="15.20" y2="-3.50" stroke="#FAB53B" stroke-width="1.0" />
<circle cx="15.20" cy="-5.60" r="2.6" fill="#FAB53B" />
</g>
<g transform="translate(102.40 230.60) rotate(24)">
<path d="M0,3 Q0,-0.4 2.4,0.1 C6,6.8 17.70,6.8 21.30,0.1 Q23.70,-0.4 23.70,3 L23.70,13.50 Q23.70,17.50 19.70,17.50 L12.10,17.50 Q9.60,17.50 9.60,20.00 L9.60,32.20 A4.80,4.80 0 0 1 0,32.20 Z" fill="#D1D2D5"/>
<circle cx="14.50" cy="22.10" r="3.5" fill="#D1D2D5" />
<path d="M3.1,1.9 C4.2,4.2 6.2,5.3 8.2,4.3 C10.6,3.1 12,0.8 14.5,0.3 C17,-0.2 19.2,1 20.9,3.3" fill="none" stroke="#11253F" stroke-width="2.1" stroke-linecap="round"/>
<line x1="15.20" y1="0.20" x2="15.20" y2="-3.50" stroke="#FAB53B" stroke-width="1.0" />
<circle cx="15.20" cy="-5.60" r="2.6" fill="#FAB53B" />
</g>
<path d="M155.39,237.74 A7.0,7.0 0 1 1 156.59,251.47" fill="none" stroke="#111" stroke-width="1.25"/>
<path d="M154.81,251.08 A7.0,7.0 0 0 1 154.24,238.16" fill="none" stroke="#111" stroke-width="1.25" stroke-dasharray="2.6 1.7"/>
<path d="M158.80,249.30 L155.20,251.70 L158.80,253.70 Z" fill="#111"/>
<path d="M157.20,239.90 L157.20,244.50 L159.90,246.80" fill="none" stroke="#111" stroke-width="1.3" stroke-linecap="round" stroke-linejoin="round"/>
<line x1="140.90" y1="260.40" x2="174.20" y2="260.40" stroke="#111" stroke-width="0.7" />
<path d="M173.00,259.20 L175.40,260.40 L173.00,261.60 Z" fill="#111"/>
<text x="132.10" y="272.60" font-size="9.9" text-anchor="start" fill="#000" textLength="48.9" lengthAdjust="spacingAndGlyphs" >30-90 mins</text>
<text x="73.50" y="186.20" font-size="10.4" text-anchor="start" fill="#1a1a1a" font-weight="bold" textLength="152.6" lengthAdjust="spacingAndGlyphs" >Endogenous p*MHC presentation</text>
<text x="40.90" y="293.60" font-size="9.9" text-anchor="start" fill="#000" textLength="237.8" lengthAdjust="spacingAndGlyphs" >p*MHCs quickly fall apart due to poor complex stability</text>
<g transform="translate(194.20 237.40) scale(1.0)">
<path d="M0,0 C2,1.2 4.5,0.8 6,-1.2 C7.5,-3.5 8.5,-6.2 10.5,-6.3 C12,-6.4 13.5,-6.2 15,-6" fill="none" stroke="#11253F" stroke-width="2.1" stroke-linecap="round"/>
<line x1="8.60" y1="-6.50" x2="8.60" y2="-9.00" stroke="#FAB53B" stroke-width="0.9" />
<circle cx="8.50" cy="-11.30" r="2.5" fill="#FAB53B" />
</g>
<circle cx="194.50" cy="246.20" r="3.2" fill="#D1D2D5" />
<path d="M218.5,227 Q218.5,223.2 222.5,223.2 Q226.7,223.2 226.7,227 L226.7,250 Q226.7,254 224.5,254 Q221.5,254 221.2,251 A4.8,4.8 0 0 0 211.6,251 Q211.3,255.4 208.8,255.4 Q205.4,255.4 205.4,251 L205.4,243 Q205.4,238.6 209.5,238.6 L214,238.6 Q218.5,238.6 218.5,234.5 Z" fill="#D1D2D5"/>
<path d="M233.6,238.5 L242.5,220.5 Q244.5,217.5 247.5,219.8 C250,223.5 252,227.5 256,225 Q259.8,222.6 259.2,226.5 L255.5,233.5 Q253.5,236.5 250.5,236 L246,235.8 Q243,235.8 241.5,238.5 Q239.5,242.6 236,241.8 Q232.6,241 233.6,238.5 Z" fill="#D1D2D5"/>
<circle cx="245.40" cy="242.00" r="3.0" fill="#D1D2D5" />
<path d="M260.7,217.9 C262.5,218.7 264.6,218.3 265.7,217 C266.9,215.6 267.5,214.4 268.8,214.3 C270.2,214.2 271.6,214.3 273,214.3" fill="none" stroke="#11253F" stroke-width="1.9" stroke-linecap="round"/>
<line x1="268.30" y1="214.00" x2="268.30" y2="211.50" stroke="#FAB53B" stroke-width="0.9" />
<circle cx="268.20" cy="209.50" r="2.4" fill="#FAB53B" />
<circle cx="261.00" cy="233.80" r="1.1" fill="#FAB53B" />
<path d="M262.4,235 C264,236.5 265.8,238 265.6,239.6 C265.4,241 266,242 266.4,243" fill="none" stroke="#11253F" stroke-width="1" stroke-linecap="round"/>
<path d="M270.4,226.8 C271.6,224 275.6,224 277.2,226.4 C278.6,228.2 280.6,226 283.2,226.8 C284.6,228.6 283.2,231.2 280.4,231.4 C277.4,232.4 273.8,231.6 271.8,230 C270.4,229.2 270,228 270.4,226.8 Z" fill="#D1D2D5"/>
<circle cx="277.90" cy="241.00" r="1.7" fill="#D1D2D5" />
<path d="M285.5,241.5 C285.5,236.4 292,236.2 295,238.6 C298,241 297.6,245.4 294.4,246.8 C292.6,247.6 290.6,247 290.1,248.4 L290.1,252.6 Q290.1,254.9 287.8,254.9 Q285.5,254.9 285.5,252.6 Z" fill="#D1D2D5"/>
<path d="M290.2,241.4 C291.5,240.6 293.4,241.2 293.2,242.6 C293,243.8 291.2,243.8 290.2,243.6 Z" fill="#fff"/>
<circle cx="287.40" cy="214.20" r="1.3" fill="#D8D9DC" />
<path d="M295.8,207 L298.4,206.6 L298.6,209.6 L301,209.8 L300.8,212 L296.2,212.2 Z" fill="#D8D9DC"/>
<path d="M300.6,221.6 L307.2,221.8 L307,227.2 L304.6,227 L304.7,224 L300.6,223.8 Z" fill="#D8D9DC"/>
<circle cx="301.20" cy="228.20" r="0.8" fill="#DCDDDF" />
<path d="M285.5,220.2 C287,220.8 288.5,221.6 290.2,220.6" fill="none" stroke="#11253F" stroke-width="0.7"/>
<circle cx="291.40" cy="220.00" r="0.8" fill="#FAB53B" />
<circle cx="293.60" cy="228.60" r="0.8" fill="#FAB53B" />
<path d="M293.9,229.6 C294.2,231 294.6,232.5 295.3,233.8" fill="none" stroke="#11253F" stroke-width="0.7"/>
<text x="437.30" y="186.40" font-size="10.4" text-anchor="start" fill="#1a1a1a" font-weight="bold" textLength="161.2" lengthAdjust="spacingAndGlyphs" >TCE-mediated p*MHC stabilization</text>
<text x="352.00" y="293.70" font-size="9.9" text-anchor="start" fill="#000" textLength="304.3" lengthAdjust="spacingAndGlyphs" >p*MHCs are presented for an extended time via antibody stabilization</text>
<path d="M353.30,283.00 A78.5,78.5 0 0 1 449.80,282.80" fill="none" stroke="#B9BABC" stroke-width="0.9"/>
<path d="M544.80,277.50 A78.5,78.5 0 0 1 640.30,277.30" fill="none" stroke="#B9BABC" stroke-width="0.9"/>
<path d="M501.99,237.74 A7.0,7.0 0 1 1 503.19,251.47" fill="none" stroke="#111" stroke-width="1.25"/>
<path d="M501.41,251.08 A7.0,7.0 0 0 1 500.84,238.16" fill="none" stroke="#111" stroke-width="1.25" stroke-dasharray="2.6 1.7"/>
<path d="M505.40,249.30 L501.80,251.70 L505.40,253.70 Z" fill="#111"/>
<path d="M503.80,239.90 L503.80,244.50 L506.50,246.80" fill="none" stroke="#111" stroke-width="1.3" stroke-linecap="round" stroke-linejoin="round"/>
<line x1="486.60" y1="259.90" x2="519.70" y2="259.90" stroke="#111" stroke-width="0.7" />
<path d="M518.50,258.70 L520.90,259.90 L518.50,261.10 Z" fill="#111"/>
<text x="491.30" y="273.40" font-size="9.6" text-anchor="start" fill="#000" textLength="23.6" lengthAdjust="spacingAndGlyphs" >&gt;24 h</text>
<g transform="translate(347.00 250.00) rotate(-34)">
<path d="M0,3 Q0,-0.4 2.4,0.1 C6,6.8 17.70,6.8 21.30,0.1 Q23.70,-0.4 23.70,3 L23.70,13.30 Q23.70,17.30 19.70,17.30 L12.10,17.30 Q9.60,17.30 9.60,19.80 L9.60,32.70 A4.80,4.80 0 0 1 0,32.70 Z" fill="#D1D2D5"/>
<circle cx="14.50" cy="23.10" r="3.5" fill="#D1D2D5" />
<path d="M3.3,1.6 C5.3,3.8 8.5,4.0 10.6,1.6 C12.6,-0.9 13.6,-2.9 16,-2.7 C17.8,-2.6 19.3,-1.5 20.4,-0.3" fill="none" stroke="#11253F" stroke-width="2.3" stroke-linecap="round"/>
</g>
<g transform="translate(391.00 233.70) rotate(0)">
<path d="M0,3 Q0,-0.4 2.4,0.1 C6,6.8 17.70,6.8 21.30,0.1 Q23.70,-0.4 23.70,3 L23.70,15.50 Q23.70,19.50 19.70,19.50 L12.10,19.50 Q9.60,19.50 9.60,22.00 L9.60,33.70 A4.80,4.80 0 0 1 0,33.70 Z" fill="#D1D2D5"/>
<circle cx="13.60" cy="24.90" r="3.5" fill="#D1D2D5" />
<path d="M3.1,1.9 C4.2,4.2 6.2,5.3 8.2,4.3 C10.6,3.1 12,0.8 14.5,0.3 C17,-0.2 19.2,1 20.9,3.3" fill="none" stroke="#11253F" stroke-width="2.3" stroke-linecap="round"/>
</g>
<g transform="translate(430.60 238.70) rotate(15.5)">
<path d="M0,3 Q0,-0.4 2.4,0.1 C6,6.8 17.70,6.8 21.30,0.1 Q23.70,-0.4 23.70,3 L23.70,13.80 Q23.70,17.80 19.70,17.80 L12.10,17.80 Q9.60,17.80 9.60,20.30 L9.60,32.70 A4.80,4.80 0 0 1 0,32.70 Z" fill="#D1D2D5"/>
<circle cx="14.50" cy="22.40" r="3.5" fill="#D1D2D5" />
<path d="M3.1,1.9 C4.2,4.2 6.2,5.3 8.2,4.3 C10.6,3.1 12,0.8 14.5,0.3 C17,-0.2 19.2,1 20.9,3.3" fill="none" stroke="#11253F" stroke-width="2.3" stroke-linecap="round"/>
</g>
<g transform="translate(0.00 0.00)">
<path d="M343.2,213.2 C340.2,214.5 339.8,223 342.6,224.6" stroke="#4a4f58" stroke-width="0.45" fill="none"/>
<path d="M353.8,223.5 C356,224.5 357.5,225 358.5,224" stroke="#4a4f58" stroke-width="0.45" fill="none"/>
<path d="M370.8,228.5 C372.5,231.5 369.5,235.2 366.5,234.8 C364.5,234.5 363.2,233.8 362.6,233" stroke="#4a4f58" stroke-width="0.45" fill="none"/>
<path d="M359.5,213.8 C361,216 362.5,217.5 364.5,218.6" stroke="#4a4f58" stroke-width="0.45" fill="none"/>
<g transform="translate(365.90 203.60) rotate(21) scale(1.0 0.95)">
<path d="M-2.5,-12.8 C-7.6,-10 -8.4,0 -8.0,9.5 C-7.6,12.8 -5,13.2 -3,12.2" stroke="#4a4f58" stroke-width="0.5" fill="none"/>
<rect x="-1.2" y="-12.8" width="6.4" height="5" rx="1.8" fill="#5A687D"/>
<rect x="0.9" y="-4.2" width="5.9" height="15" rx="2.3" fill="#4C5A70"/>
<path d="M-5.6,9.2 Q-6.4,10.9 -4.4,11 L-1.6,10.8 Q0,10.4 0.2,8.2 L0.4,-1.6 Q0.6,-4 3,-4.3 L5.2,-4.6 Q6.9,-5.2 6.6,-7.4 Q6.1,-10.6 2,-11.1 Q-3.2,-11.5 -5.2,-7 Q-6.5,-3 -6.2,3 Z" fill="#828D9E"/>
</g>
<rect x="-6.30" y="-3.20" width="12.6" height="6.4" rx="2.40" fill="#C6CAD0" transform="translate(347.00 216.20) rotate(-8)" />
<rect x="-6.40" y="-3.40" width="12.8" height="6.8" rx="2.40" fill="#DDDFE3" transform="translate(348.20 222.90) rotate(-8)" />
<rect x="-3.80" y="-5.80" width="7.6" height="11.6" rx="2.40" fill="#FAB53B" transform="translate(360.20 228.50) rotate(-27)" />
<rect x="-3.80" y="-5.80" width="7.6" height="11.6" rx="2.40" fill="#FCD793" transform="translate(366.70 224.90) rotate(-27)" />
<circle cx="356.60" cy="235.10" r="2.6" fill="#FAB53B" />
</g>
<g transform="translate(0.00 0.00)">
<path d="M399.2,204.6 C396.2,206 395.8,214.5 398.6,216.4" stroke="#4a4f58" stroke-width="0.45" fill="none"/>
<path d="M410.2,209.5 C411.8,213.5 412.6,216 412.8,218.4" stroke="#4a4f58" stroke-width="0.45" fill="none"/>
<path d="M423.0,228.6 C423.2,232.2 420.2,234.2 417.6,233.4 C416,232.8 415.2,231.8 414.8,230.8" stroke="#4a4f58" stroke-width="0.45" fill="none"/>
<path d="M418.8,211.5 C419.5,214 420,216 420.2,217.6" stroke="#4a4f58" stroke-width="0.45" fill="none"/>
<g transform="translate(427.80 204.00) rotate(54) scale(1.0 0.95)">
<path d="M-2.5,-12.8 C-7.6,-10 -8.4,0 -8.0,9.5 C-7.6,12.8 -5,13.2 -3,12.2" stroke="#4a4f58" stroke-width="0.5" fill="none"/>
<rect x="-1.2" y="-12.8" width="6.4" height="5" rx="1.8" fill="#5A687D"/>
<rect x="0.9" y="-4.2" width="5.9" height="15" rx="2.3" fill="#4C5A70"/>
<path d="M-5.6,9.2 Q-6.4,10.9 -4.4,11 L-1.6,10.8 Q0,10.4 0.2,8.2 L0.4,-1.6 Q0.6,-4 3,-4.3 L5.2,-4.6 Q6.9,-5.2 6.6,-7.4 Q6.1,-10.6 2,-11.1 Q-3.2,-11.5 -5.2,-7 Q-6.5,-3 -6.2,3 Z" fill="#828D9E"/>
</g>
<rect x="-6.30" y="-3.20" width="12.6" height="6.4" rx="2.40" fill="#C6CAD0" transform="translate(404.40 207.70) rotate(8)" />
<rect x="-6.40" y="-3.40" width="12.8" height="6.8" rx="2.40" fill="#DDDFE3" transform="translate(404.00 214.30) rotate(8)" />
<rect x="-3.60" y="-6.00" width="7.2" height="12.0" rx="2.40" fill="#FAB53B" transform="translate(413.40 225.20) rotate(-6)" />
<rect x="-3.60" y="-6.00" width="7.2" height="12.0" rx="2.40" fill="#FCD793" transform="translate(420.20 224.20) rotate(-6)" />
<line x1="405.90" y1="230.60" x2="405.60" y2="233.20" stroke="#FAB53B" stroke-width="1.0" />
<circle cx="405.90" cy="228.50" r="2.6" fill="#FAB53B" />
</g>
<g transform="translate(0.00 0.00)">
<path d="M446.8,214.6 C443.4,215 442.6,220.5 445.6,223.4" stroke="#4a4f58" stroke-width="0.45" fill="none"/>
<path d="M456.2,221.2 C457.6,224.5 458,227.5 457.6,230.2" stroke="#4a4f58" stroke-width="0.45" fill="none"/>
<path d="M465.6,242.6 C465.4,246 462,247.6 459.6,246.4 C458.2,245.6 457.6,244.6 457.4,243.6" stroke="#4a4f58" stroke-width="0.45" fill="none"/>
<path d="M465,225 C465.2,227.5 464.8,229.5 464.2,231" stroke="#4a4f58" stroke-width="0.45" fill="none"/>
<g transform="translate(475.60 221.80) rotate(70) scale(1.0 0.95)">
<path d="M-2.5,-12.8 C-7.6,-10 -8.4,0 -8.0,9.5 C-7.6,12.8 -5,13.2 -3,12.2" stroke="#4a4f58" stroke-width="0.5" fill="none"/>
<rect x="-1.2" y="-12.8" width="6.4" height="5" rx="1.8" fill="#5A687D"/>
<rect x="0.9" y="-4.2" width="5.9" height="15" rx="2.3" fill="#4C5A70"/>
<path d="M-5.6,9.2 Q-6.4,10.9 -4.4,11 L-1.6,10.8 Q0,10.4 0.2,8.2 L0.4,-1.6 Q0.6,-4 3,-4.3 L5.2,-4.6 Q6.9,-5.2 6.6,-7.4 Q6.1,-10.6 2,-11.1 Q-3.2,-11.5 -5.2,-7 Q-6.5,-3 -6.2,3 Z" fill="#828D9E"/>
</g>
<rect x="-6.30" y="-3.20" width="12.6" height="6.4" rx="2.40" fill="#C6CAD0" transform="translate(453.00 216.80) rotate(30)" />
<rect x="-6.40" y="-3.40" width="12.8" height="6.8" rx="2.40" fill="#DDDFE3" transform="translate(449.80 222.40) rotate(30)" />
<rect x="-3.60" y="-6.00" width="7.2" height="12.0" rx="2.40" fill="#FAB53B" transform="translate(454.40 237.50) rotate(3)" />
<rect x="-3.60" y="-6.00" width="7.2" height="12.0" rx="2.40" fill="#FCD793" transform="translate(462.00 238.10) rotate(3)" />
<line x1="447.20" y1="240.40" x2="447.60" y2="243.00" stroke="#FAB53B" stroke-width="1.0" />
<circle cx="447.20" cy="238.40" r="2.6" fill="#FAB53B" />
</g>
<g transform="translate(580.00 230.70) rotate(0)">
<path d="M0,3 Q0,-0.4 2.4,0.1 C6,6.8 17.70,6.8 21.30,0.1 Q23.70,-0.4 23.70,3 L23.70,15.50 Q23.70,19.50 19.70,19.50 L12.10,19.50 Q9.60,19.50 9.60,22.00 L9.60,33.70 A4.80,4.80 0 0 1 0,33.70 Z" fill="#D1D2D5"/>
<circle cx="13.60" cy="24.90" r="3.5" fill="#D1D2D5" />
<path d="M3.1,1.9 C4.2,4.2 6.2,5.3 8.2,4.3 C10.6,3.1 12,0.8 14.5,0.3 C17,-0.2 19.2,1 20.9,3.3" fill="none" stroke="#11253F" stroke-width="2.3" stroke-linecap="round"/>
</g>
<g transform="translate(627.20 236.80) rotate(19.5)">
<path d="M0,3 Q0,-0.4 2.4,0.1 C6,6.8 17.70,6.8 21.30,0.1 Q23.70,-0.4 23.70,3 L23.70,13.80 Q23.70,17.80 19.70,17.80 L12.10,17.80 Q9.60,17.80 9.60,20.30 L9.60,32.70 A4.80,4.80 0 0 1 0,32.70 Z" fill="#D1D2D5"/>
<circle cx="14.50" cy="22.40" r="3.5" fill="#D1D2D5" />
<path d="M3.1,1.9 C4.2,4.2 6.2,5.3 8.2,4.3 C10.6,3.1 12,0.8 14.5,0.3 C17,-0.2 19.2,1 20.9,3.3" fill="none" stroke="#11253F" stroke-width="2.3" stroke-linecap="round"/>
</g>
<g transform="translate(189.00 -3.00)">
<path d="M399.2,204.6 C396.2,206 395.8,214.5 398.6,216.4" stroke="#4a4f58" stroke-width="0.45" fill="none"/>
<path d="M410.2,209.5 C411.8,213.5 412.6,216 412.8,218.4" stroke="#4a4f58" stroke-width="0.45" fill="none"/>
<path d="M423.0,228.6 C423.2,232.2 420.2,234.2 417.6,233.4 C416,232.8 415.2,231.8 414.8,230.8" stroke="#4a4f58" stroke-width="0.45" fill="none"/>
<path d="M418.8,211.5 C419.5,214 420,216 420.2,217.6" stroke="#4a4f58" stroke-width="0.45" fill="none"/>
<g transform="translate(427.80 204.00) rotate(54) scale(1.0 0.95)">
<path d="M-2.5,-12.8 C-7.6,-10 -8.4,0 -8.0,9.5 C-7.6,12.8 -5,13.2 -3,12.2" stroke="#4a4f58" stroke-width="0.5" fill="none"/>
<rect x="-1.2" y="-12.8" width="6.4" height="5" rx="1.8" fill="#5A687D"/>
<rect x="0.9" y="-4.2" width="5.9" height="15" rx="2.3" fill="#4C5A70"/>
<path d="M-5.6,9.2 Q-6.4,10.9 -4.4,11 L-1.6,10.8 Q0,10.4 0.2,8.2 L0.4,-1.6 Q0.6,-4 3,-4.3 L5.2,-4.6 Q6.9,-5.2 6.6,-7.4 Q6.1,-10.6 2,-11.1 Q-3.2,-11.5 -5.2,-7 Q-6.5,-3 -6.2,3 Z" fill="#828D9E"/>
</g>
<rect x="-6.30" y="-3.20" width="12.6" height="6.4" rx="2.40" fill="#C6CAD0" transform="translate(404.40 207.70) rotate(8)" />
<rect x="-6.40" y="-3.40" width="12.8" height="6.8" rx="2.40" fill="#DDDFE3" transform="translate(404.00 214.30) rotate(8)" />
<rect x="-3.60" y="-6.00" width="7.2" height="12.0" rx="2.40" fill="#FAB53B" transform="translate(413.40 225.20) rotate(-6)" />
<rect x="-3.60" y="-6.00" width="7.2" height="12.0" rx="2.40" fill="#FCD793" transform="translate(420.20 224.20) rotate(-6)" />
<line x1="405.90" y1="230.60" x2="405.60" y2="233.20" stroke="#FAB53B" stroke-width="1.0" />
<circle cx="405.90" cy="228.50" r="2.6" fill="#FAB53B" />
</g>
<g transform="translate(197.00 -2.40)">
<path d="M446.8,214.6 C443.4,215 442.6,220.5 445.6,223.4" stroke="#4a4f58" stroke-width="0.45" fill="none"/>
<path d="M456.2,221.2 C457.6,224.5 458,227.5 457.6,230.2" stroke="#4a4f58" stroke-width="0.45" fill="none"/>
<path d="M465.6,242.6 C465.4,246 462,247.6 459.6,246.4 C458.2,245.6 457.6,244.6 457.4,243.6" stroke="#4a4f58" stroke-width="0.45" fill="none"/>
<path d="M465,225 C465.2,227.5 464.8,229.5 464.2,231" stroke="#4a4f58" stroke-width="0.45" fill="none"/>
<g transform="translate(475.60 221.80) rotate(70) scale(1.0 0.95)">
<path d="M-2.5,-12.8 C-7.6,-10 -8.4,0 -8.0,9.5 C-7.6,12.8 -5,13.2 -3,12.2" stroke="#4a4f58" stroke-width="0.5" fill="none"/>
<rect x="-1.2" y="-12.8" width="6.4" height="5" rx="1.8" fill="#5A687D"/>
<rect x="0.9" y="-4.2" width="5.9" height="15" rx="2.3" fill="#4C5A70"/>
<path d="M-5.6,9.2 Q-6.4,10.9 -4.4,11 L-1.6,10.8 Q0,10.4 0.2,8.2 L0.4,-1.6 Q0.6,-4 3,-4.3 L5.2,-4.6 Q6.9,-5.2 6.6,-7.4 Q6.1,-10.6 2,-11.1 Q-3.2,-11.5 -5.2,-7 Q-6.5,-3 -6.2,3 Z" fill="#828D9E"/>
</g>
<rect x="-6.30" y="-3.20" width="12.6" height="6.4" rx="2.40" fill="#C6CAD0" transform="translate(453.00 216.80) rotate(30)" />
<rect x="-6.40" y="-3.40" width="12.8" height="6.8" rx="2.40" fill="#DDDFE3" transform="translate(449.80 222.40) rotate(30)" />
<rect x="-3.60" y="-6.00" width="7.2" height="12.0" rx="2.40" fill="#FAB53B" transform="translate(454.40 237.50) rotate(3)" />
<rect x="-3.60" y="-6.00" width="7.2" height="12.0" rx="2.40" fill="#FCD793" transform="translate(462.00 238.10) rotate(3)" />
<line x1="447.20" y1="240.40" x2="447.60" y2="243.00" stroke="#FAB53B" stroke-width="1.0" />
<circle cx="447.20" cy="238.40" r="2.6" fill="#FAB53B" />
</g>
<circle cx="531.10" cy="236.80" r="2.2" fill="#FAB53B" />
<path d="M531.2,243.6 C531,241.6 531.8,240.6 533.5,240.5 C535.5,240.4 537.5,240.8 538.8,239.6 C540,238.5 540.4,237.6 540.8,236.8" fill="none" stroke="#11253F" stroke-width="1.3" stroke-linecap="round"/>
<g transform="translate(554.5 249.5) scale(1.13) translate(-554.5 -249.5)">
<path d="M546.2,246.2 C546.5,243.5 549,243 550.5,244.2 C552.5,241 556.5,239.2 559,241.2 C560.2,243 560.4,250 562.3,255.6 Q562.4,258.4 559.6,258.2 C557.6,257.8 557,254 556.2,251.2 C554,252.2 551,251.6 550,249.4 C548.4,249.6 546.4,248.6 546.2,246.2 Z" fill="#DADBDE"/>
<path d="M551.6,253 L551.6,248.4 A1.5,1.5 0 0 1 554.6,248.4 L554.6,253 Z" fill="#fff"/>
</g>
<circle cx="543.30" cy="261.10" r="2.2" fill="#D1D2D5" />
</svg>
</body></html>
